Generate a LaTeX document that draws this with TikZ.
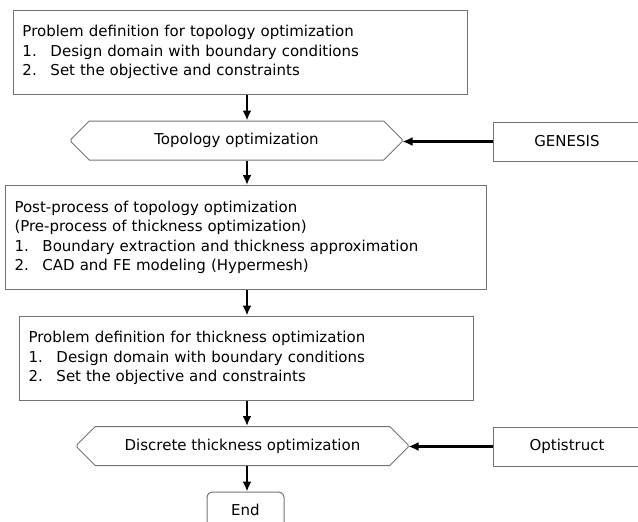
\documentclass[tikz,border=0pt]{standalone}
\usepackage{fontspec}
\setmainfont{DejaVu Sans}
\usetikzlibrary{arrows.meta,shapes.misc,positioning}

\newcommand{\itm}[1]{\makebox[28pt][l]{#1}}

\begin{document}
\begin{tikzpicture}[x=1pt,y=-1pt,
    every node/.style={font=\fontsize{15}{19.5}\selectfont},
    box/.style={draw=black!55,line width=1pt,rectangle,inner xsep=9pt,align=left,anchor=west},
    oct/.style={draw=black!55,line width=1pt,chamfered rectangle,chamfered rectangle xsep=12pt,chamfered rectangle ysep=11pt,inner sep=0pt,minimum width=331pt,minimum height=39pt},
    tool/.style={draw=black!55,line width=1pt,rectangle,minimum width=148pt,minimum height=39pt},
    flow/.style={-{Latex[length=10pt,width=9pt]},line width=2.2pt}]
  \useasboundingbox (0,0) rectangle (638,522);
  \clip (0,0) rectangle (638,522);
  \coordinate (axis) at (247,0);

  \node[box,text width=436pt,minimum height=84pt] (topdef) at (13,52)
    {Problem definition for topology optimization\\
     \itm{1.}Design domain with boundary conditions\\
     \itm{2.}Set the objective and constraints};
  \node[oct] (topopt) at (236.5,140.5) {Topology optimization};
  \node[tool] (genesis) at (567,141.5) {GENESIS};

  \node[box,text width=463pt,minimum height=104pt] (post) at (5,237.5)
    {Post-process of topology optimization\\
     (Pre-process of thickness optimization)\\
     \itm{1.}Boundary extraction and thickness approximation\\
     \itm{2.}CAD and FE modeling (Hypermesh)};

  \node[box,text width=436pt,minimum height=84pt] (thkdef) at (19,358)
    {Problem definition for thickness optimization\\
     \itm{1.}Design domain with boundary conditions\\
     \itm{2.}Set the objective and constraints};
  \node[oct] (thkopt) at (242.5,446) {Discrete thickness optimization};
  \node[tool] (optistruct) at (567,446.5) {Optistruct};

  \node[draw=black!55,line width=1pt,rounded corners=5pt,minimum width=77pt,minimum height=36pt] (end) at (245.5,510) {End};

  \draw[flow] (topdef.south -| axis) -- (topopt.north -| axis);
  \draw[flow] (genesis.west) -- (genesis.west -| topopt.east);
  \draw[flow] (topopt.south -| axis) -- (post.north -| axis);
  \draw[flow] (post.south -| axis) -- (thkdef.north -| axis);
  \draw[flow] (thkdef.south -| axis) -- (thkopt.north -| axis);
  \draw[flow] (optistruct.west) -- (optistruct.west -| thkopt.east);
  \draw[flow] (thkopt.south -| axis) -- (end.north -| axis);
\end{tikzpicture}
\end{document}
